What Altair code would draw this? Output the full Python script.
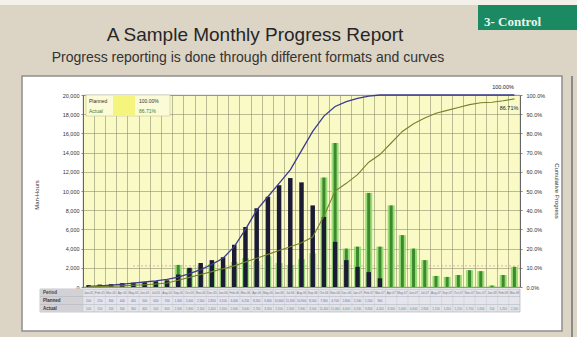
import altair as alt
import pandas as pd

# ---------------- data ----------------
months = ["Jan-05", "Feb-05", "Mar-05", "Apr-05", "May-05", "Jun-05", "Jul-05", "Aug-05",
          "Sep-05", "Oct-05", "Nov-05", "Dec-05", "Jan-06", "Feb-06", "Mar-06", "Apr-06",
          "May-06", "Jun-06", "Jul-06", "Aug-06", "Sep-06", "Oct-06", "Nov-06", "Dec-06",
          "Jan-07", "Feb-07", "Mar-07", "Apr-07", "May-07", "Jun-07", "Jul-07", "Aug-07",
          "Sep-07", "Oct-07", "Nov-07", "Dec-07", "Jan-08", "Feb-08", "Mar-08"]

planned = [200, 250, 300, 400, 450, 500, 600, 700, 1300, 2000, 2500, 2800,
           3100, 4400, 6250, 8200, 9400, 10600, 11350, 10900, 8500, 7300, 4700, 2800,
           2100, 1550, 900, 0, 0, 0, 0, 0, 0, 0, 0, 0, 0, 0, 0]

actual = [100, 150, 200, 300, 300, 400, 500, 600, 2300, 1900, 2100, 2400,
          2000, 2600, 3000, 2700, 3200, 2500, 2300, 2900, 3500, 11400, 15000, 4000,
          4200, 9800, 4200, 8500, 5400, 4000, 2800, 1150, 1050, 1250, 1750, 1650,
          150, 1250, 2100]

cum_planned = [0.3, 0.6, 1.0, 1.5, 2.0, 2.6, 3.2, 4.0, 5.2, 7.0, 9.0, 11.8,
               15, 21, 30, 40, 47, 54, 61, 71, 81, 89, 94, 96.5,
               98.3, 99.4, 100, 100, 100, 100, 100, 100, 100, 100, 100, 100,
               100, 100, 100]

cum_actual = [0.1, 0.2, 0.4, 0.6, 0.9, 1.2, 1.6, 2.1, 3.5, 5, 6.5, 8,
              9.5, 11, 13, 15, 17, 19, 21, 23, 26, 37, 50, 54,
              58.5, 65, 69, 75, 81, 85, 88, 90.5, 92, 93.5, 95, 96,
              96.2, 97, 98]

left_ticks = [0, 2000, 4000, 6000, 8000, 10000, 12000, 14000, 16000, 18000, 20000]
right_ticks = [0, 10, 20, 30, 40, 50, 60, 70, 80, 90, 100]
reference_level = [2200]

title_text = ["A Sample Monthly Progress Report"]
subtitle_text = ["Progress reporting is done through different formats and curves"]
logo_text = ["3- Control"]
left_title = ["Man-Hours"]
right_title = ["Cumulative Progress"]
legend_names = ["Planned", "Actual"]
legend_values = ["100.00%", "86.71%"]
end_labels = ["100.00%", "86.71%"]
table_headers = ["Period", "Planned", "Actual"]

df = pd.DataFrame({
    "month": months,
    "planned": planned,
    "actual": actual,
    "cum_planned": cum_planned,
    "cum_actual": cum_actual,
})
df["planned_txt"] = [f"{v:,}" if v else "" for v in planned]
df["actual_txt"] = [f"{v:,}" for v in actual]

FONT = "Liberation Sans"
GRID = "#8e8e74"

x_scale = alt.Scale(domain=months, paddingInner=0, paddingOuter=0)
x_axis = alt.Axis(title=None, labels=False, ticks=False, domain=False, grid=True,
                  gridColor=GRID, gridWidth=0.6, bandPosition=0)
x_enc = alt.X("month:N", sort=months, scale=x_scale, axis=x_axis)

left_axis = alt.Axis(title=None, orient="left", values=left_ticks,
                     labelExpr="format(datum.value, ',')",
                     grid=True, gridColor=GRID, gridWidth=0.6,
                     labelFontSize=5.5, labelFont=FONT, labelColor="#333",
                     tickSize=2, labelPadding=2, domainColor="#666")
left_scale = alt.Scale(domain=[0, 20000], nice=False)

def yl(field):
    return alt.Y(f"{field}:Q", scale=left_scale, axis=left_axis, title=None)

base = alt.Chart(df)

green_outer = base.mark_bar(size=7, color="#98dc78").encode(x=x_enc, y=yl("actual"))
green_inner = base.mark_bar(size=3, color="#3c8a2c").encode(x=x_enc, y=yl("actual"))
dark = base.mark_bar(size=4.5, color="#1b1b34").encode(x=x_enc, y=yl("planned"))
ref = alt.Chart(pd.DataFrame({"lvl": reference_level})).mark_rule(
    color="#e39a9a", strokeDash=[2, 2], strokeWidth=0.8
).encode(y=yl("lvl"), x=alt.value(50), x2=alt.value(437))

bars = alt.layer(ref, green_outer, green_inner, dark)

right_axis = alt.Axis(title=None, orient="right", values=right_ticks,
                      labelExpr="format(datum.value, '.1f') + '%'",
                      grid=False, labelFontSize=5.5, labelFont=FONT, labelColor="#333",
                      tickSize=2, labelPadding=4, domainColor="#666")
right_scale = alt.Scale(domain=[0, 100], nice=False)

def yr(field):
    return alt.Y(f"{field}:Q", scale=right_scale, axis=right_axis, title=None)

x_line = alt.X("month:N", sort=months, scale=x_scale, axis=x_axis, bandPosition=0.5)
blue_line = base.mark_line(color="#3b3b8c", strokeWidth=1.3).encode(x=x_line, y=yr("cum_planned"))
olive_line = base.mark_line(color="#76822c", strokeWidth=1.1).encode(x=x_line, y=yr("cum_actual"))
lines = alt.layer(blue_line, olive_line)

# ---------------- decorations (pixel positions relative to plot origin) ----------------
one = pd.DataFrame({"k": [0]})

def rect(x, x2, y, y2, **kw):
    return alt.Chart(one).mark_rect(**kw).encode(
        x=alt.value(x), x2=alt.value(x2), y=alt.value(y), y2=alt.value(y2))

def text(values, x, y, **kw):
    kw.setdefault("font", FONT)
    return alt.Chart(pd.DataFrame({"t": values})).mark_text(**kw).encode(
        x=alt.value(x), y=alt.value(y), text="t:N")

BEIGE = "#dcd4c5"
frame = [
    rect(-83, 494, -95, -19, color=BEIGE),
    rect(-83, 494, -95, -90, color="#f3f0ea"),
    rect(-83, -61, -19, 242, color=BEIGE),
    rect(479, 494, -19, 242, color=BEIGE),
    rect(-61, 479, 236, 242, color=BEIGE),
    rect(-61, 479, -19, 236, fill="transparent", stroke="#8f8f8f", strokeWidth=1.5),
    rect(488, 490, -19, 242, color="#8a8a8a"),
    rect(395, 494, -90, -65, color="#1b8a62"),
    text(logo_text, 401, -73, align="left", font="Liberation Serif", fontSize=13,
         fontWeight="bold", color="#e8f5ee"),
    text(title_text, 172, -60, fontSize=19, color="#262626"),
    text(subtitle_text, 165, -37, fontSize=14, color="#333"),
    text(left_title, -46, 100, angle=270, fontSize=6, color="#333"),
    text(right_title, 474, 96, angle=90, fontSize=6, color="#333"),
    # legend box in plot
    rect(3, 87, 0, 21, fill="#fbfbd8", stroke="#c4c49a", strokeWidth=0.6),
    rect(30, 52, 0, 21, color="#f5f57e"),
    text(legend_names[:1], 6, 6, align="left", fontSize=5, color="#333"),
    text(legend_names[1:], 6, 16, align="left", fontSize=5, color="#3f7f2f"),
    text(legend_values[:1], 56, 6, align="left", fontSize=5, color="#333"),
    text(legend_values[1:], 56, 16, align="left", fontSize=5, color="#3f7f2f"),
    # end-of-curve labels
    text(end_labels[:1], 420, -8, fontSize=5.5, color="#222"),
    text(end_labels[1:], 426, 13, fontSize=5.5, color="#222"),
    # data table background
    rect(-43, 437, 194, 217, fill="#e4e4ec", stroke="#a8a8b0", strokeWidth=0.6),
    rect(-43, 0, 194, 217, color="#d2d2d6"),
    rect(-43, 437, 201, 201.6, color="#b0b0b8"),
    rect(-43, 437, 209, 209.6, color="#b0b0b8"),
    text(table_headers[:1], -40, 198, align="left", fontSize=4.5, fontWeight="bold", color="#444"),
    text(table_headers[1:2], -40, 205.5, align="left", fontSize=4.5, fontWeight="bold", color="#333"),
    text(table_headers[2:], -40, 213.5, align="left", fontSize=4.5, fontWeight="bold", color="#333"),
]

table_sep = base.mark_rule(color="#c0c0c8", strokeWidth=0.4).encode(
    x=alt.X("month:N", sort=months, scale=x_scale, axis=x_axis, bandPosition=0),
    y=alt.value(194), y2=alt.value(217))
row1 = base.mark_text(font=FONT, fontSize=3, color="#777").encode(
    x=x_line, y=alt.value(198), text="month:N")
row2 = base.mark_text(font=FONT, fontSize=3, color="#6a6ab8").encode(
    x=x_line, y=alt.value(205.5), text="planned_txt:N")
row3 = base.mark_text(font=FONT, fontSize=3, color="#5f955f").encode(
    x=x_line, y=alt.value(213.5), text="actual_txt:N")

main = alt.layer(bars, lines).resolve_scale(y="independent")

chart = alt.layer(main, *frame, table_sep, row1, row2, row3).properties(
    width=437, height=192,
    autosize=alt.AutoSizeParams(type="none"),
    padding={"left": 83, "top": 95, "right": 57, "bottom": 50},
    background="white",
).configure_view(fill="#fafac6", stroke="#777777", strokeWidth=0.8)

chart.save("out.html", embed_options={"renderer": "svg", "actions": False})
